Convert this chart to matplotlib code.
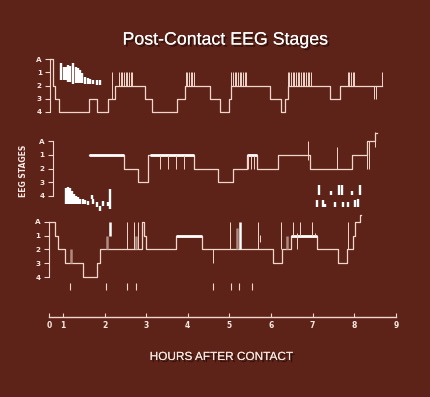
import matplotlib.pyplot as plt
import matplotlib.patheffects as pe

BG = '#5e2318'
LINE = '#f0d6cc'
GRAY = '#b08a80'
WHITE = '#ffffff'
TXT = '#f6e8e2'

STAGE_LABELS = ['A', '1', '2', '3', '4']
HOUR_TICKS = [0.66, 1, 2, 3, 4, 5, 6, 7, 8, 9]
HOUR_LABELS = ['0', '1', '2', '3', '4', '5', '6', '7', '8', '9']

# ---- panel 1 (stage: 0 = A, 1..4) ----
p1_t = [0.69, 0.76, 0.81, 0.90, 1.63, 1.82, 2.08, 2.25, 2.97, 3.14, 3.74, 3.93,
        4.53, 4.77, 4.99, 5.04, 5.98, 6.24, 6.34, 6.41, 7.42, 7.66, 8.67]
p1_s = [0, 2, 3, 4, 3, 4, 3, 2, 3, 4, 3, 2, 3, 4, 3, 2, 3, 4, 3, 2, 3, 2, 2]
p1_comb = [2.35, 2.39, 2.43, 2.47, 2.51, 2.55, 2.59, 2.63, 2.67,
           3.95, 3.99, 4.03, 4.07, 4.11, 4.15,
           5.05, 5.09, 5.13, 5.17, 5.21, 5.25, 5.29, 5.33, 5.37, 5.41,
           6.40, 6.44, 6.48, 6.52, 6.56, 6.60, 6.64, 6.68, 6.72, 6.76, 6.80,
           6.84, 6.88, 6.92, 6.96,
           7.84, 7.88, 7.92, 7.96, 8.00, 8.67]
p1_spike_t = [2.18, 8.48, 8.52]
p1_spike_top = [1, 2, 2]
p1_spike_bot = [3, 3, 3]
p1_wake_t = [0.95, 1.02, 1.07, 1.12, 1.17, 1.24, 1.31, 1.36, 1.41, 1.46, 1.53,
             1.60, 1.65, 1.72, 1.82, 1.89]
p1_wake_top = [0.3, 0.6, 0.6, 0.45, 0.5, 0.3, 0.6, 0.7, 0.8, 1.05, 1.35, 1.45,
               1.5, 1.58, 1.6, 1.6]
p1_wake_bot = [1.6, 1.6, 1.6, 1.7, 1.7, 1.9, 1.8, 1.8, 1.8, 1.8, 1.85, 1.9,
               1.9, 1.9, 1.95, 1.95]

# ---- panel 2 ----
p2_t = [1.63, 2.47, 2.80, 3.04, 4.15, 4.73, 5.09, 5.42, 5.66, 6.17, 6.94,
        7.95, 8.31, 8.50, 8.55]
p2_s = [1, 2, 3, 1, 2, 3, 2, 1, 2, 1, 2, 1, 0, -0.6, -0.6]
p2_bold_start = [1.63, 3.09, 5.42]
p2_bold_end = [2.47, 4.15, 5.66]
p2_spike_t = [3.33, 3.52, 3.72, 3.91, 5.45, 5.52, 5.59, 6.89, 7.59, 8.31, 8.36, 8.50]
p2_spike_top = [1, 1, 1, 1, 1, 1, 1, 0, 0.45, 0, 0, -0.65]
p2_spike_bot = [2, 2, 2, 2, 2, 2, 2, 1.4, 2, 2, 2, 0.45]
p2_wake_t = [1.07, 1.12, 1.17, 1.22, 1.26, 1.31, 1.36, 1.41, 1.48, 1.53, 1.60,
             1.70, 1.72, 1.82, 1.89, 1.96, 2.08, 2.13,
             7.15, 7.44, 7.63, 7.71, 7.95, 8.14,
             7.11, 7.25, 7.30, 7.54, 7.73, 7.85, 8.02, 8.09]
p2_wake_top = [3.4, 3.35, 3.45, 3.6, 3.85, 4.0, 4.1, 4.2, 4.25, 4.3, 4.35,
               3.9, 4.25, 4.45, 4.75, 4.35, 4.4, 3.5,
               3.2, 3.65, 3.2, 3.2, 3.65, 3.2,
               4.3, 4.3, 4.55, 4.4, 4.4, 4.4, 4.3, 4.2]
p2_wake_bot = [4.6, 4.6, 4.6, 4.6, 4.6, 4.6, 4.6, 4.6, 4.6, 4.6, 4.65,
               4.2, 4.55, 4.8, 5.1, 4.7, 4.75, 4.95,
               3.9, 3.9, 3.9, 3.9, 3.9, 3.9,
               4.8, 4.8, 4.8, 4.8, 4.8, 4.8, 4.8, 4.8]

# ---- panel 3 ----
p3_t = [0.66, 0.81, 0.88, 1.05, 1.48, 1.82, 1.89, 2.90, 2.95, 3.00, 3.72, 4.34,
        6.05, 6.26, 6.48, 7.11, 7.61, 7.83, 7.97, 8.02, 8.14, 8.16]
p3_s = [0, 1, 2, 3, 4, 3, 2, 0, 1, 2, 1, 2, 3, 2, 1, 2, 3, 2, 1, 0, -0.5, -0.5]
p3_bold_start = [3.72, 6.48]
p3_bold_end = [4.34, 7.11]
p3_thin_t = [2.54, 2.71, 2.80, 4.61, 5.01, 5.69, 5.74, 6.25, 6.53, 6.62, 6.70,
             6.99, 7.06, 7.85]
p3_thin_top = [0, 0, 0, 2, 0, 0, 0.95, 0, 0, 0.8, 0, 0, 0.8, 0]
p3_thin_bot = [2, 2, 2, 3, 2, 2, 1.45, 2, 1, 2, 1, 1, 1, 2]
p3_gray_t = [1.19, 2.05, 2.76, 5.19, 6.38]
p3_gray_top = [2, 1, 1, 0.45, 1]
p3_gray_bot = [3, 2, 2, 2, 2]
p3_white_t = [2.13, 5.26]
p3_white_top = [0, 0]
p3_white_bot = [1, 2]
p3_marks = [1.17, 2.03, 2.54, 2.75, 4.61, 5.04, 5.23, 5.54]

W, H = 430, 397
X0, X1 = -0.514, 9.822

fig = plt.figure(figsize=(W / 100, H / 100), dpi=100, facecolor=BG)


def band(top, bottom):
    ax = fig.add_axes([0, 1 - bottom / H, 1, (bottom - top) / H])
    ax.set_facecolor('none')
    ax.set_xlim(X0, X1)
    for s in ['top', 'right', 'bottom', 'left']:
        ax.spines[s].set_visible(False)
    ax.set_xticks([])
    return ax


def hypno(top, bottom, y_a, px_per_stage, spine_x):
    ax = band(top, bottom)
    ax.set_ylim((bottom - y_a) / px_per_stage, (top - y_a) / px_per_stage)
    sp = ax.spines['left']
    sp.set_visible(True)
    sp.set_position(('data', spine_x))
    sp.set_bounds(0, 4)
    sp.set_color(LINE)
    sp.set_linewidth(0.8)
    ax.set_yticks(range(5))
    ax.set_yticklabels(STAGE_LABELS, fontsize=5.2, fontweight='bold', color=TXT)
    ax.tick_params(axis='y', length=3.5, width=0.8, color=LINE, pad=2.5)
    return ax


ax1 = hypno(45, 125, 59, 13.25, 0.69)
ax1.step(p1_t, p1_s, where='post', color=LINE, lw=0.9)
ax1.vlines(p1_comb, 1, 2, colors=LINE, lw=0.7)
ax1.vlines(p1_spike_t, p1_spike_top, p1_spike_bot, colors=LINE, lw=0.7)
ax1.vlines(p1_wake_t, p1_wake_top, p1_wake_bot, colors=WHITE, lw=1.7)

ax2 = hypno(128, 215, 141, 13.75, 0.76)
ax2.step(p2_t, p2_s, where='post', color=LINE, lw=0.9)
ax2.hlines([1] * len(p2_bold_start), p2_bold_start, p2_bold_end, colors=WHITE, lw=2)
ax2.vlines(p2_spike_t, p2_spike_top, p2_spike_bot, colors=LINE, lw=0.7)
ax2.vlines(p2_wake_t, p2_wake_top, p2_wake_bot, colors=WHITE, lw=1.7)

ax3 = hypno(210, 295, 222, 13.75, 0.66)
ax3.step(p3_t, p3_s, where='post', color=LINE, lw=0.9)
ax3.hlines([1] * len(p3_bold_start), p3_bold_start, p3_bold_end, colors=WHITE, lw=2)
ax3.vlines(p3_thin_t, p3_thin_top, p3_thin_bot, colors=LINE, lw=0.7)
ax3.vlines(p3_gray_t, p3_gray_top, p3_gray_bot, colors=GRAY, lw=1.8)
ax3.vlines(p3_white_t, p3_white_top, p3_white_bot, colors=WHITE, lw=1.8)
ax3.vlines(p3_marks, 4.45, 4.95, colors=LINE, lw=0.8)

# hours axis
axh = band(297, 317)
axh.set_ylim(0, 1)
sp = axh.spines['bottom']
sp.set_visible(True)
sp.set_bounds(HOUR_TICKS[0], HOUR_TICKS[-1])
sp.set_color(LINE)
sp.set_linewidth(1)
axh.set_xticks(HOUR_TICKS)
axh.set_xticklabels(HOUR_LABELS, fontsize=5.5, fontweight='bold', color=TXT)
axh.tick_params(axis='x', direction='in', length=3, width=0.8, color=LINE, pad=3)
axh.set_yticks([])

shadow = [pe.withSimplePatchShadow(offset=(1.5, -1.5), shadow_rgbFace='black', alpha=0.5), pe.Normal()]
fig.text(225 / W, 1 - 40 / H, 'Post-Contact EEG Stages', ha='center', va='center',
         fontsize=12.8, color=WHITE, family='Liberation Sans', path_effects=shadow)
fig.text(221 / W, 1 - 357 / H, 'HOURS AFTER CONTACT', ha='center', va='center',
         fontsize=8.5, color=TXT, family='Liberation Sans', path_effects=shadow)
fig.text(23 / W, 1 - 171 / H, 'EEG STAGES', ha='center', va='center', rotation=90,
         fontsize=5.5, fontweight='bold', color=TXT)

fig.savefig('out.png', dpi=100, facecolor=BG)
